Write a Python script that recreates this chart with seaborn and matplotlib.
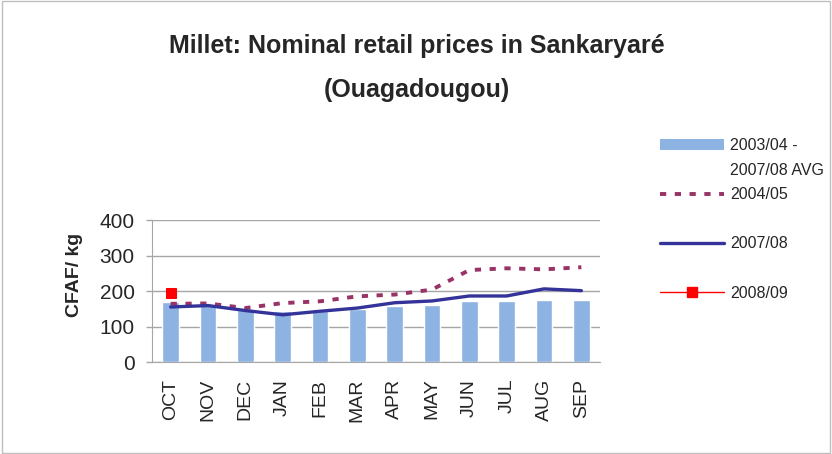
import numpy as np
import pandas as pd
import matplotlib
matplotlib.use("Agg")
import matplotlib.pyplot as plt
import seaborn as sns
from matplotlib.lines import Line2D
from matplotlib.patches import Patch, Rectangle

months = ["OCT", "NOV", "DEC", "JAN", "FEB", "MAR", "APR", "MAY", "JUN", "JUL", "AUG", "SEP"]
avg_0304_0708 = [168, 160, 146, 144, 145, 148, 159, 161, 173, 173, 176, 176]
prices_0405 = [164, 165, 152, 166, 171, 185, 190, 204, 259, 264, 261, 267]
prices_0708 = [155, 159, 145, 133, 143, 152, 167, 172, 186, 186, 206, 201]
prices_0809 = [193]

sns.set_style("white")
plt.rcParams["font.family"] = ["Liberation Sans", "DejaVu Sans"]

fig = plt.figure(figsize=(8.32, 4.54), dpi=100)
ax = fig.add_axes([0.1827, 0.2026, 0.5385, 0.3128])

df = pd.DataFrame({"month": months, "avg": avg_0304_0708})
sns.barplot(data=df, x="month", y="avg", color="#8db3e2", saturation=1, width=0.44, ax=ax, zorder=2)

dash = (0, (1.6, 2.2))
pos = np.arange(len(months))
sns.lineplot(x=pos, y=prices_0405, color="#993366", linewidth=2.8, linestyle=dash, ax=ax, zorder=3)
sns.lineplot(x=pos, y=prices_0708, color="#333399", linewidth=2.4, ax=ax, zorder=4)
sns.lineplot(x=pos[:len(prices_0809)], y=prices_0809, color="red", marker="s", markersize=6.5,
             markeredgecolor="red", linewidth=1.0, ax=ax, zorder=5)

ax.set_ylim(0, 400)
ax.set_xlim(-0.5, len(months) - 0.5)
ax.set_yticks([0, 100, 200, 300, 400])
ax.yaxis.grid(True, color="#a6a6a6", linewidth=1)
ax.set_axisbelow(True)
for s in ["top", "right"]:
    ax.spines[s].set_visible(False)
ax.spines["left"].set_color("#a6a6a6")
ax.spines["bottom"].set_color("#a6a6a6")
ax.tick_params(axis="y", labelsize=15, length=4.5, width=1, color="#a6a6a6", direction="out", pad=8, left=True)
ax.tick_params(axis="x", labelsize=14, rotation=90, length=0, pad=12)
ax.set_xlabel("")
ax.set_ylabel("CFAF/ kg", fontsize=14, fontweight="bold")
ax.yaxis.set_label_coords(-0.154, 0.613)

fig.text(0.501, 0.883, "Millet: Nominal retail prices in Sankaryaré", ha="center", va="baseline",
         fontsize=18, fontweight="bold")
fig.text(0.501, 0.786, "(Ouagadougou)", ha="center", va="baseline", fontsize=18, fontweight="bold")

# legend: rows with blank spacers to mimic the original spacing
blank = Line2D([], [], linestyle="none")
handles = [
    Patch(facecolor="#8db3e2", edgecolor="none"),
    blank,
    Line2D([], [], color="#993366", linewidth=2.8, linestyle=dash),
    blank,
    Line2D([], [], color="#333399", linewidth=2.4),
    blank,
    Line2D([], [], color="red", linewidth=1.0, marker="s", markersize=6.5),
]
labels = ["2003/04 -", "2007/08 AVG", "2004/05", " ", "2007/08", " ", "2008/09"]
fig.legend(handles, labels, loc="upper left", bbox_to_anchor=(0.793, 0.696), frameon=False,
           fontsize=11.5, handlelength=4.0, handleheight=0.7, labelspacing=0.6, handletextpad=0.4,
           borderpad=0, borderaxespad=0)

fig.patches.append(Rectangle((0.002, 0.002), 0.996, 0.996, transform=fig.transFigure,
                             fill=False, edgecolor="#bfbfbf", linewidth=1))

fig.savefig("out.png", dpi=100)
